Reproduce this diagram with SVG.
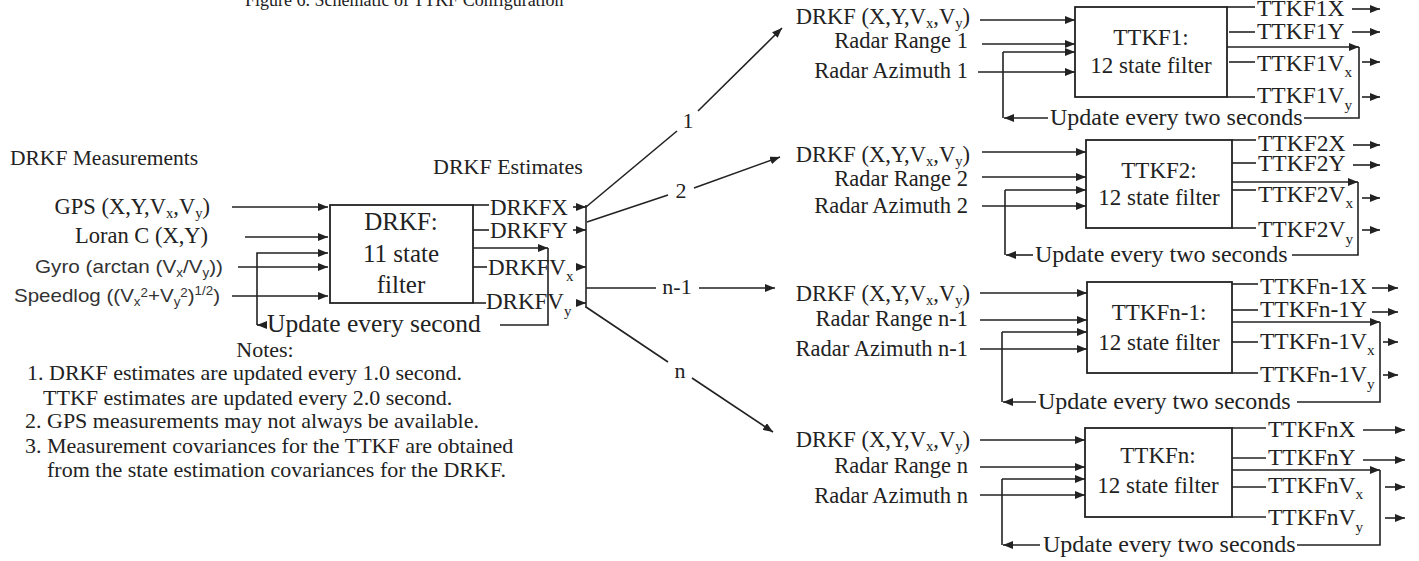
<svg xmlns="http://www.w3.org/2000/svg" width="1419" height="561" viewBox="0 0 1419 561">
<defs>
<marker id="ah" markerWidth="10" markerHeight="8" refX="10" refY="4" orient="auto" markerUnits="userSpaceOnUse"><path d="M0,0 L10,4 L0,8 z" fill="#222"/></marker>
<style>
.t{font-family:"Liberation Serif","Times New Roman",serif;fill:#222;}
.s{font-family:"Liberation Sans",Arial,sans-serif;fill:#333;}
.in{font-size:22.5px;text-anchor:end;}
.out{font-size:23.5px;}
.blk{font-size:23px;text-anchor:middle;}
.up{font-size:24px;}
.note{font-size:22px;}
.ln{stroke:#222;stroke-width:1.6;fill:none;}
.ar{stroke:#222;stroke-width:1.6;fill:none;marker-end:url(#ah);}
.box{stroke:#222;stroke-width:1.8;fill:#fff;}
.sub{font-size:65%;}
</style>
</defs>
<rect width="1419" height="561" fill="#fff"/>

<text class="t" x="245" y="6" font-size="18">Figure 6. Schematic of TTKF Configuration</text>

<g id="measurements">
<text class="t" x="10" y="165" font-size="21.5">DRKF Measurements</text>
<text class="t in" x="210" y="214" font-size="23">GPS (X,Y,V<tspan class="sub" dy="4">x</tspan><tspan dy="-4">,V</tspan><tspan class="sub" dy="4">y</tspan><tspan dy="-4">)</tspan></text>
<text class="t in" x="208" y="243" font-size="23">Loran C (X,Y)</text>
<text class="s" x="35" y="273" font-size="18.5" textLength="188" lengthAdjust="spacingAndGlyphs">Gyro (arctan (V<tspan class="sub" dy="4">x</tspan><tspan dy="-4">/V</tspan><tspan class="sub" dy="4">y</tspan><tspan dy="-4">))</tspan></text>
<text class="s" x="14" y="302" font-size="18.5" textLength="206" lengthAdjust="spacingAndGlyphs">Speedlog ((V<tspan class="sub" dy="4">x</tspan><tspan class="sub" dy="-9">2</tspan><tspan dy="5">+V</tspan><tspan class="sub" dy="4">y</tspan><tspan class="sub" dy="-9">2</tspan><tspan dy="5">)</tspan><tspan class="sub" dy="-7">1/2</tspan><tspan dy="7">)</tspan></text>
</g>

<g id="drkf">
<rect class="box" x="330" y="205" width="143" height="98"/>
<text class="t" x="401" y="230" font-size="25" text-anchor="middle">DRKF:</text>
<text class="t" x="401" y="262" font-size="25" text-anchor="middle">11 state</text>
<text class="t" x="401" y="293" font-size="25" text-anchor="middle">filter</text>
</g>

<g id="drkf-estimates">
<text class="t" x="433" y="174" font-size="22">DRKF Estimates</text>
<text class="t" x="490" y="215" font-size="23">DRKFX</text>
<text class="t" x="490" y="238" font-size="23">DRKFY</text>
<text class="t" x="488" y="275" font-size="23">DRKFV<tspan class="sub" dy="6">x</tspan></text>
<text class="t" x="486" y="309" font-size="23">DRKFV<tspan class="sub" dy="7">y</tspan></text>
<text class="t" x="267" y="332" font-size="25.5">Update every second</text>
</g>

<g id="notes">
<text class="t note" x="265" y="357" text-anchor="middle">Notes:</text>
<text class="t note" x="27" y="380">1. DRKF estimates are updated every 1.0 second.</text>
<text class="t note" x="43" y="405">TTKF estimates are updated every 2.0 second.</text>
<text class="t note" x="25" y="428">2. GPS measurements may not always be available.</text>
<text class="t note" x="25" y="453">3. Measurement covariances for the TTKF are obtained</text>
<text class="t note" x="47" y="477">from the state estimation covariances for the DRKF.</text>
</g>

<g id="ttkf1">
<text class="t in" x="970" y="24">DRKF (X,Y,V<tspan class="sub" dy="4">x</tspan><tspan dy="-4">,V</tspan><tspan class="sub" dy="4">y</tspan><tspan dy="-4">)</tspan></text>
<text class="t in" x="968" y="48">Radar Range 1</text>
<text class="t in" x="968" y="78">Radar Azimuth 1</text>
<rect class="box" x="1075" y="7" width="152" height="90"/>
<text class="t blk" x="1151" y="45">TTKF1:</text>
<text class="t blk" x="1151" y="73">12 state filter</text>
<text class="t out" x="1257" y="16">TTKF1X</text>
<text class="t out" x="1257" y="39">TTKF1Y</text>
<text class="t out" x="1257" y="71">TTKF1V<tspan class="sub" dy="6">x</tspan></text>
<text class="t out" x="1257" y="103">TTKF1V<tspan class="sub" dy="7">y</tspan></text>
<text class="t up" x="1050" y="125">Update every two seconds</text>
</g>

<g id="ttkf2">
<text class="t in" x="970" y="162">DRKF (X,Y,V<tspan class="sub" dy="4">x</tspan><tspan dy="-4">,V</tspan><tspan class="sub" dy="4">y</tspan><tspan dy="-4">)</tspan></text>
<text class="t in" x="968" y="186">Radar Range 2</text>
<text class="t in" x="968" y="213">Radar Azimuth 2</text>
<rect class="box" x="1086" y="140" width="146" height="88"/>
<text class="t blk" x="1159" y="178">TTKF2:</text>
<text class="t blk" x="1159" y="205">12 state filter</text>
<text class="t out" x="1258" y="151">TTKF2X</text>
<text class="t out" x="1258" y="171">TTKF2Y</text>
<text class="t out" x="1258" y="202">TTKF2V<tspan class="sub" dy="6">x</tspan></text>
<text class="t out" x="1258" y="237">TTKF2V<tspan class="sub" dy="7">y</tspan></text>
<text class="t up" x="1035" y="262">Update every two seconds</text>
</g>

<g id="ttkfn-1">
<text class="t in" x="970" y="301">DRKF (X,Y,V<tspan class="sub" dy="4">x</tspan><tspan dy="-4">,V</tspan><tspan class="sub" dy="4">y</tspan><tspan dy="-4">)</tspan></text>
<text class="t in" x="968" y="326">Radar Range n-1</text>
<text class="t in" x="968" y="356">Radar Azimuth n-1</text>
<rect class="box" x="1087" y="282" width="145" height="91"/>
<text class="t blk" x="1159" y="320">TTKFn-1:</text>
<text class="t blk" x="1159" y="350">12 state filter</text>
<text class="t out" x="1260" y="294">TTKFn-1X</text>
<text class="t out" x="1260" y="317">TTKFn-1Y</text>
<text class="t out" x="1260" y="349">TTKFn-1V<tspan class="sub" dy="6">x</tspan></text>
<text class="t out" x="1260" y="382">TTKFn-1V<tspan class="sub" dy="7">y</tspan></text>
<text class="t up" x="1038" y="409">Update every two seconds</text>
</g>

<g id="ttkfn">
<text class="t in" x="970" y="447">DRKF (X,Y,V<tspan class="sub" dy="4">x</tspan><tspan dy="-4">,V</tspan><tspan class="sub" dy="4">y</tspan><tspan dy="-4">)</tspan></text>
<text class="t in" x="968" y="473">Radar Range n</text>
<text class="t in" x="968" y="503">Radar Azimuth n</text>
<rect class="box" x="1085" y="428" width="147" height="89"/>
<text class="t blk" x="1158" y="463">TTKFn:</text>
<text class="t blk" x="1158" y="493">12 state filter</text>
<text class="t out" x="1268" y="437">TTKFnX</text>
<text class="t out" x="1268" y="465">TTKFnY</text>
<text class="t out" x="1268" y="493">TTKFnV<tspan class="sub" dy="6">x</tspan></text>
<text class="t out" x="1268" y="525">TTKFnV<tspan class="sub" dy="7">y</tspan></text>
<text class="t up" x="1043" y="552">Update every two seconds</text>
</g>

<g id="connectors">
<path class="ar" d="M232 207 H328"/>
<path class="ar" d="M245 237 H328"/>
<path class="ar" d="M238 267 H328"/>
<path class="ar" d="M232 296 H328"/>
<path class="ar" d="M473 248 H548"/>
<path class="ln" d="M548 248 V325 H500"/>
<path class="ar" d="M266 325 H257"/>
<path class="ar" d="M257 325 V253 H328"/>
<path class="ln" d="M473 205 H489"/>
<path class="ln" d="M473 230 H489"/>
<path class="ln" d="M473 267 H487"/>
<path class="ln" d="M473 303 H486"/>
<path class="ar" d="M573 207 H586"/>
<path class="ar" d="M573 230 H586"/>
<path class="ar" d="M576 267 H586"/>
<path class="ar" d="M576 303 H586"/>
<path class="ln" d="M586 205 V308"/>
<path class="ln" d="M586 207 L677 131"/>
<path class="ar" d="M698 111 L782 28"/>
<text class="t" x="688" y="128" font-size="22" text-anchor="middle">1</text>
<path class="ln" d="M587 222 L668 195"/>
<path class="ar" d="M694 188 L780 157"/>
<text class="t" x="681" y="198" font-size="22" text-anchor="middle">2</text>
<path class="ln" d="M586 288 H656"/>
<path class="ar" d="M699 288 H775"/>
<text class="t" x="677" y="294" font-size="22" text-anchor="middle">n-1</text>
<path class="ln" d="M586 307 L668 362"/>
<path class="ar" d="M692 378 L773 432"/>
<text class="t" x="680" y="378" font-size="22" text-anchor="middle">n</text>

<path class="ar" d="M980 20 H1075"/>
<path class="ar" d="M982 44 H1075"/>
<path class="ar" d="M1003 52 H1075"/>
<path class="ar" d="M978 72 H1075"/>
<path class="ar" d="M1048 118 H1004"/>
<path class="ln" d="M1003 118 V52"/>
<path class="ar" d="M1227 47 H1359"/>
<path class="ln" d="M1359 47 V118 H1304"/>
<path class="ln" d="M1227 7 H1255"/>
<path class="ln" d="M1229 32 H1255"/>
<path class="ln" d="M1229 62 H1255"/>
<path class="ln" d="M1227 97 H1255"/>
<path class="ar" d="M1352 9 H1380"/>
<path class="ar" d="M1352 32 H1380"/>
<path class="ar" d="M1362 62 H1380"/>
<path class="ar" d="M1362 97 H1380"/>

<path class="ar" d="M982 152 H1086"/>
<path class="ar" d="M982 177 H1086"/>
<path class="ar" d="M1005 190 H1086"/>
<path class="ar" d="M982 206 H1086"/>
<path class="ar" d="M1033 255 H1006"/>
<path class="ln" d="M1005 255 V190"/>
<path class="ar" d="M1232 182 H1358"/>
<path class="ln" d="M1358 182 V255 H1292"/>
<path class="ln" d="M1232 140 H1256"/>
<path class="ln" d="M1232 163 H1256"/>
<path class="ln" d="M1232 190 H1256"/>
<path class="ln" d="M1232 228 H1256"/>
<path class="ar" d="M1353 145 H1380"/>
<path class="ar" d="M1353 165 H1380"/>
<path class="ar" d="M1362 198 H1380"/>
<path class="ar" d="M1362 230 H1380"/>

<path class="ar" d="M980 293 H1087"/>
<path class="ar" d="M980 320 H1087"/>
<path class="ar" d="M1002 332 H1087"/>
<path class="ar" d="M980 349 H1087"/>
<path class="ar" d="M1036 402 H1003"/>
<path class="ln" d="M1002 402 V332"/>
<path class="ar" d="M1232 322 H1380"/>
<path class="ln" d="M1380 322 V402 H1297"/>
<path class="ln" d="M1232 284 H1258"/>
<path class="ln" d="M1232 310 H1258"/>
<path class="ln" d="M1232 342 H1258"/>
<path class="ln" d="M1232 373 H1258"/>
<path class="ar" d="M1372 288 H1398"/>
<path class="ar" d="M1372 312 H1398"/>
<path class="ar" d="M1383 342 H1398"/>
<path class="ar" d="M1383 375 H1398"/>

<path class="ar" d="M980 440 H1085"/>
<path class="ar" d="M980 467 H1085"/>
<path class="ar" d="M1002 479 H1085"/>
<path class="ar" d="M980 495 H1085"/>
<path class="ar" d="M1040 545 H1003"/>
<path class="ln" d="M1002 545 V479"/>
<path class="ar" d="M1232 470 H1380"/>
<path class="ln" d="M1380 470 V545 H1297"/>
<path class="ln" d="M1232 428 H1266"/>
<path class="ln" d="M1232 458 H1266"/>
<path class="ln" d="M1232 487 H1266"/>
<path class="ln" d="M1232 517 H1266"/>
<path class="ar" d="M1363 430 H1405"/>
<path class="ar" d="M1363 460 H1405"/>
<path class="ar" d="M1385 487 H1405"/>
<path class="ar" d="M1385 518 H1405"/>
</g>
</svg>
